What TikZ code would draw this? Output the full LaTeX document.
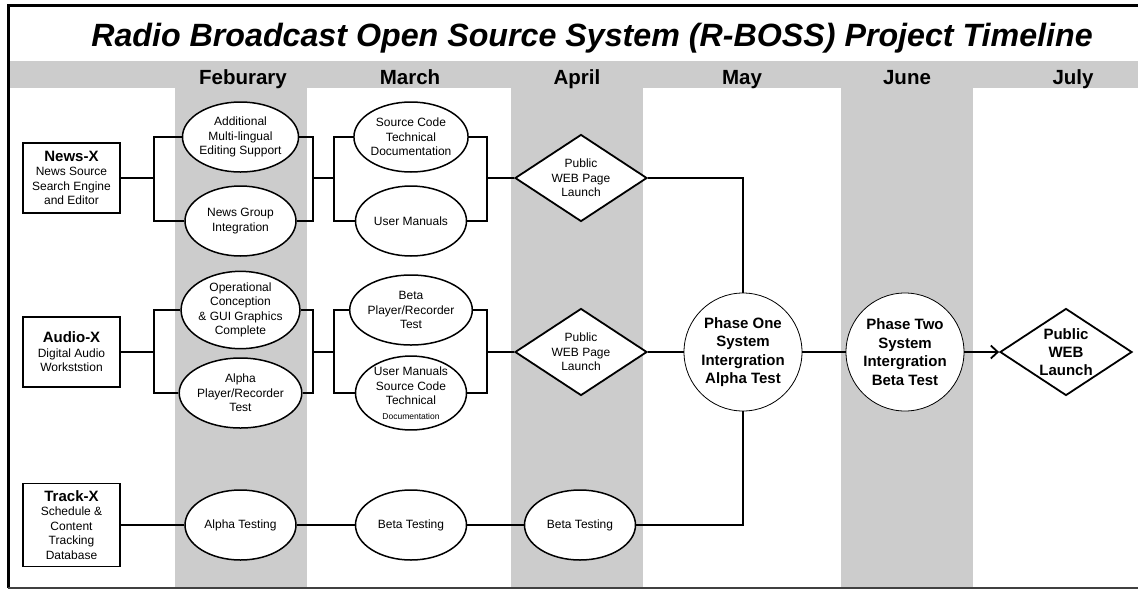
\documentclass[tikz,border=0pt]{standalone}
\usepackage{fontspec}
\setmainfont{Liberation Sans}
\usepackage{xcolor}
\usetikzlibrary{shapes.geometric,arrows.meta}

\definecolor{bandgrey}{RGB}{204,204,204}

\begin{document}
\begin{tikzpicture}[
    x=1pt, y=-1pt,
    line width=1.8pt,
    font=\fontsize{12}{14.5}\selectfont
]

\tikzstyle{project}=[
    rectangle,
    draw,
    fill=white,
    minimum width=97pt,
    minimum height=70pt,
    inner sep=1pt,
    align=center
]
\tikzstyle{task}=[
    ellipse,
    draw,
    fill=white,
    line width=1.5pt,
    minimum width=111pt,
    minimum height=70pt,
    inner sep=0pt,
    align=center
]
\tikzstyle{webpage}=[
    diamond,
    draw,
    fill=white,
    aspect=1.52,
    minimum width=132pt,
    minimum height=87pt,
    inner sep=0pt,
    align=center
]
\tikzstyle{phase}=[
    circle,
    draw,
    fill=white,
    line width=0.8pt,
    minimum size=118pt,
    inner sep=0pt,
    align=center,
    font=\bfseries\fontsize{15}{18.5}\selectfont
]
\tikzstyle{month}=[
    anchor=base,
    font=\bfseries\fontsize{20.5}{21}\selectfont
]
\newcommand{\projname}[1]{{\bfseries\fontsize{15}{17}\selectfont #1}}

\useasboundingbox (0,0) rectangle (1138,590);

% month band and shaded columns
\fill[bandgrey] (8,61) rectangle (1138,88);
\foreach \x in {175,511,841}
    \fill[bandgrey] (\x,61) rectangle ++(132,526);

% frame
\draw[line width=3pt] (1145,5) -| (8,588);
\draw[line width=2pt, black!75] (8,588) -- (1145,588);

\node[anchor=base, font=\bfseries\itshape\fontsize{32.2}{35}\selectfont] (title) at (592,46)
    {Radio Broadcast Open Source System (R-BOSS) Project Timeline};

\node[month] (feb) at (243,84) {Feburary};
\node[month] (mar) at (410,84) {March};
\node[month] (apr) at (577,84) {April};
\node[month] (may) at (742,84) {May};
\node[month] (jun) at (907,84) {June};
\node[month] (jul) at (1073,84) {July};

% News-X
\node[project] (newsx) at (71.5,178) {\projname{News-X}\\News Source\\Search Engine\\and Editor};
\node[task] (addml) at (240.5,137) {Additional\\Multi-lingual\\Editing Support};
\node[task] (ngroup) at (240.5,221) {News Group\\Integration};
\node[task] (srcdoc) at (411,137) {Source Code\\Technical\\Documentation};
\node[task] (usrman) at (411,221) {User Manuals};
\node[webpage] (web1) at (581,178) {Public\\WEB Page\\Launch};

% Audio-X
\node[project] (audiox) at (71.5,352) {\projname{Audio-X}\\Digital Audio\\Workststion};
\node[task] (opcon) at (240.5,310) {Operational\\Conception\\\& GUI Graphics\\Complete};
\node[task] (alphapr) at (240.5,393) {Alpha\\Player/Recorder\\Test};
\node[task] (betapr) at (411,310) {Beta\\Player/Recorder\\Test};
\node[task] (usrsrc) at (411,393) {User Manuals\\Source Code\\Technical\\{\fontsize{8.5}{10}\selectfont Documentation}};
\node[webpage] (web2) at (581,352) {Public\\WEB Page\\Launch};

% Track-X
\node[project, minimum height=83pt] (trackx) at (71.5,525) {\projname{Track-X}\\Schedule \&\\Content\\Tracking\\Database};
\node[task] (alphat) at (240.5,525) {Alpha Testing};
\node[task] (betat1) at (411,525) {Beta Testing};
\node[task] (betat2) at (580,525) {Beta Testing};

% phases
\node[phase] (phone) at (743,352) {Phase One\\System\\Intergration\\Alpha Test};
\node[phase] (phtwo) at (905,352) {Phase Two\\System\\Intergration\\Beta Test};
\node[webpage, font=\bfseries\fontsize{15}{18}\selectfont] (launch) at (1066,352) {Public\\WEB\\Launch};

% bracket joints
\coordinate (na) at (154,178);
\coordinate (nb) at (313,178);
\coordinate (nc) at (334,178);
\coordinate (nd) at (487,178);
\coordinate (aa) at (154,352);
\coordinate (ab) at (313,352);
\coordinate (ac) at (334,352);
\coordinate (ad) at (487,352);

\draw (newsx) -- (na);
\draw (addml.west) -| (na) |- (ngroup.west);
\draw (addml.east) -| (nb) |- (ngroup.east);
\draw (nb) -- (nc);
\draw (srcdoc.west) -| (nc) |- (usrman.west);
\draw (srcdoc.east) -| (nd) |- (usrman.east);
\draw (nd) -- (web1);
\draw (web1.east) -| (phone);

\draw (audiox) -- (aa);
\draw (opcon.west) -| (aa) |- (alphapr.west);
\draw (opcon.east) -| (ab) |- (alphapr.east);
\draw (ab) -- (ac);
\draw (betapr.west) -| (ac) |- (usrsrc.west);
\draw (betapr.east) -| (ad) |- (usrsrc.east);
\draw (ad) -- (web2);
\draw (web2) -- (phone);

\draw (trackx) -- (alphat);
\draw (alphat) -- (betat1);
\draw (betat1) -- (betat2);
\draw (betat2.east) -| (phone);

\draw (phone) -- (phtwo);
\draw[-{Straight Barb[length=7pt,width=13pt]}] (phtwo) -- (launch);

\end{tikzpicture}
\end{document}
